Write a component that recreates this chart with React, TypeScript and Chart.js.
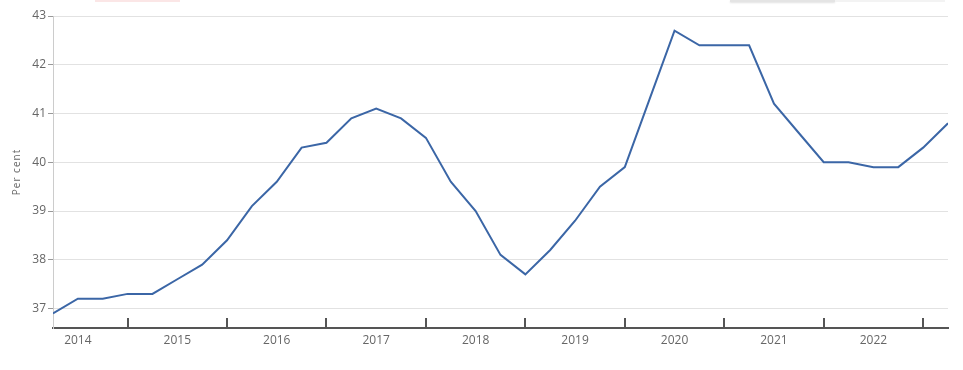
import React, { useEffect, useRef } from 'react';
import { Chart, registerables } from 'chart.js';

Chart.register(...registerables);

const periods = [
  '2014 Q2', '2014 Q3', '2014 Q4',
  '2015 Q1', '2015 Q2', '2015 Q3', '2015 Q4',
  '2016 Q1', '2016 Q2', '2016 Q3', '2016 Q4',
  '2017 Q1', '2017 Q2', '2017 Q3', '2017 Q4',
  '2018 Q1', '2018 Q2', '2018 Q3', '2018 Q4',
  '2019 Q1', '2019 Q2', '2019 Q3', '2019 Q4',
  '2020 Q1', '2020 Q2', '2020 Q3', '2020 Q4',
  '2021 Q1', '2021 Q2', '2021 Q3', '2021 Q4',
  '2022 Q1', '2022 Q2', '2022 Q3', '2022 Q4',
  '2023 Q1', '2023 Q2',
];

const values = [
  36.9, 37.2, 37.2,
  37.3, 37.3, 37.6, 37.9,
  38.4, 39.1, 39.6, 40.3,
  40.4, 40.9, 41.1, 40.9,
  40.5, 39.6, 39.0, 38.1,
  37.7, 38.2, 38.8, 39.5,
  39.9, 41.3, 42.7, 42.4,
  42.4, 42.4, 41.2, 40.6,
  40.0, 40.0, 39.9, 39.9,
  40.3, 40.8,
];

const yearLabels = ['2014', '2015', '2016', '2017', '2018', '2019', '2020', '2021', '2022'];
const yTicks = [37, 38, 39, 40, 41, 42, 43];
const yMin = 36.6;
const yMax = 43;
const baseYear = 2014;
const yTitle = 'Per cent';

function quarterPos(p: string): number {
  const [y, q] = p.split(' Q');
  return (Number(y) - baseYear) * 4 + Number(q) - 1;
}

const yearTicksPlugin = {
  id: 'yearTicks',
  afterDatasetsDraw(chart: any) {
    const xs = chart.scales.x;
    const { ctx, chartArea } = chart;
    ctx.save();
    ctx.strokeStyle = '#555';
    ctx.lineWidth = 2;
    yearLabels.forEach((y) => {
      const v = (Number(y) + 1 - baseYear) * 4;
      if (v < xs.min || v > xs.max) return;
      const px = Math.round(xs.getPixelForValue(v));
      ctx.beginPath();
      ctx.moveTo(px, chartArea.bottom);
      ctx.lineTo(px, chartArea.bottom - 10);
      ctx.stroke();
    });
    ctx.restore();
  },
};

const yTitlePlugin = {
  id: 'yTitle',
  afterDraw(chart: any) {
    const { ctx, chartArea } = chart;
    ctx.save();
    ctx.translate(17, (chartArea.top + chartArea.bottom) / 2);
    ctx.rotate(-Math.PI / 2);
    ctx.font = '10px "Open Sans"';
    (ctx as any).letterSpacing = '1px';
    ctx.fillStyle = '#666';
    ctx.textAlign = 'center';
    ctx.textBaseline = 'middle';
    ctx.fillText(yTitle, 0, 0);
    ctx.restore();
  },
};

export default function App() {
  const ref = useRef<HTMLCanvasElement | null>(null);

  useEffect(() => {
    if (!ref.current) return;
    const points = periods.map((p, i) => ({ x: quarterPos(p), y: values[i] }));
    const chart = new Chart(ref.current, {
      type: 'line',
      data: {
        datasets: [
          {
            label: yTitle,
            data: points,
            borderColor: '#3b66a6',
            borderWidth: 2,
            pointRadius: 0,
            tension: 0,
            fill: false,
          },
        ],
      },
      options: {
        responsive: false,
        animation: false,
        layout: { padding: { top: 16, right: 15, left: 0, bottom: 0 } },
        plugins: { legend: { display: false }, tooltip: { enabled: false } },
        scales: {
          x: {
            type: 'linear',
            min: quarterPos(periods[0]),
            max: quarterPos(periods[periods.length - 1]),
            afterFit: (s: any) => {
              s.height = 42;
            },
            afterBuildTicks: (s: any) => {
              s.ticks = yearLabels.map((y) => ({ value: (Number(y) - baseYear) * 4 + 2 }));
            },
            ticks: {
              autoSkip: false,
              maxRotation: 0,
              color: '#666',
              padding: 5,
              font: { family: 'Open Sans', size: 12 },
              callback: (v: any) => String(baseYear + Math.round((Number(v) - 2) / 4)),
            },
            grid: { display: false, drawTicks: false },
            border: { display: true, color: '#555', width: 2 },
          },
          y: {
            min: yMin,
            max: yMax,
            afterFit: (s: any) => {
              s.width = 53;
            },
            afterBuildTicks: (s: any) => {
              s.ticks = yTicks.map((v) => ({ value: v }));
            },
            ticks: {
              color: '#666',
              padding: 2,
              font: { family: 'Open Sans', size: 12 },
            },
            grid: { color: '#e2e2e2', tickColor: '#999', tickLength: 5 },
            border: { color: '#ccc', width: 1 },
            title: { display: false },
          },
        },
      },
      plugins: [yearTicksPlugin, yTitlePlugin],
    });
    return () => chart.destroy();
  }, []);

  return (
    <div style={{ position: 'absolute', left: 0, top: 0, width: 963, height: 370, background: '#fff', overflow: 'hidden' }}>
      <div style={{ position: 'absolute', left: 95, top: 0, width: 85, height: 2, background: '#fbe6e6' }} />
      <div style={{ position: 'absolute', left: 730, top: 0, width: 105, height: 2, background: '#e4e4e4', boxShadow: '0 1px 2px rgba(0,0,0,0.12)' }} />
      <div style={{ position: 'absolute', left: 835, top: 0, width: 110, height: 2, background: '#f3f3f3' }} />
      <canvas ref={ref} width={963} height={370} style={{ position: 'absolute', left: 0, top: 0, display: 'block' }} />
    </div>
  );
}
